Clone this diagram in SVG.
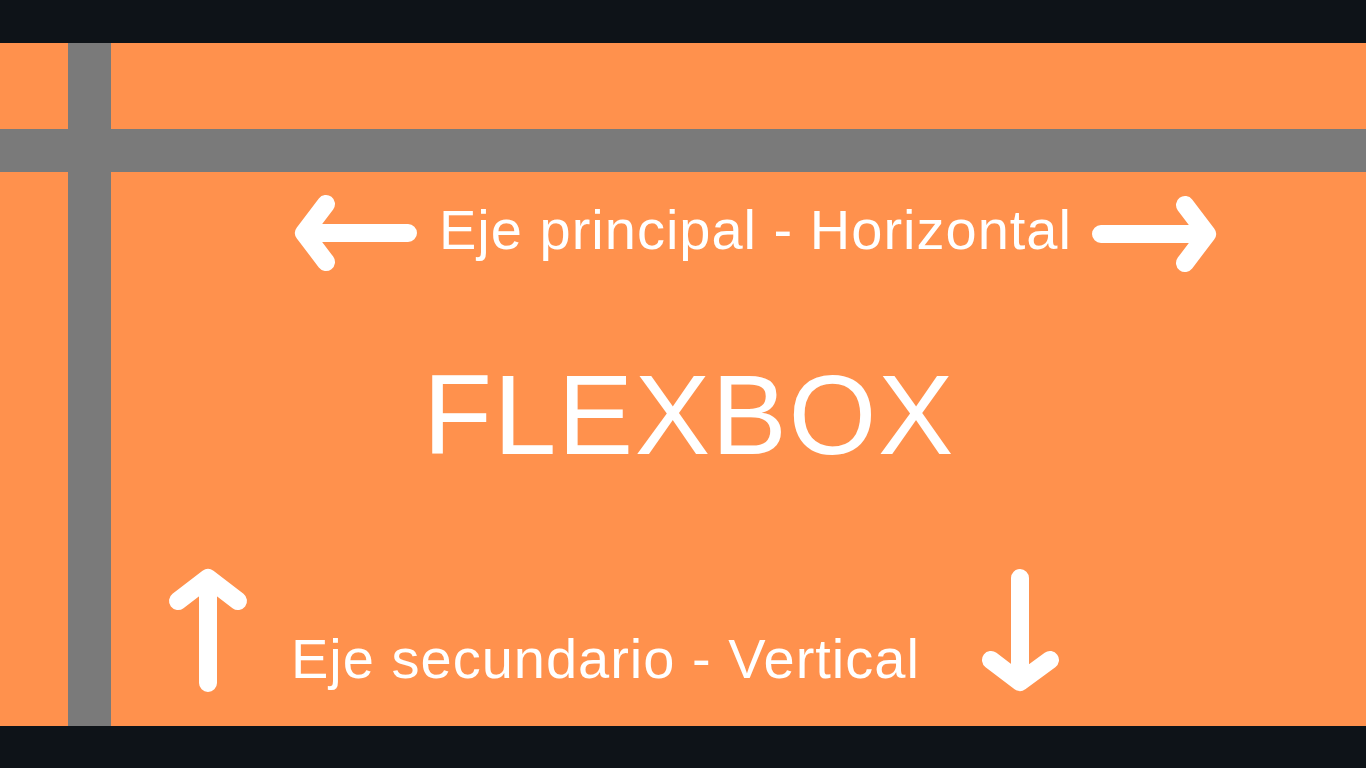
<svg xmlns="http://www.w3.org/2000/svg" width="1366" height="768" viewBox="0 0 1366 768">
<style>
.bg{fill:#ff914d}
.band{fill:#0e1318}
.bar{fill:#7a7a7a}
.lbl{font-family:"Liberation Sans",Arial,sans-serif;fill:#ffffff}
.sub{font-size:56px;letter-spacing:1px}
.arr{fill:none;stroke:#ffffff;stroke-width:18;stroke-linecap:round;stroke-linejoin:round}
</style>
<rect x="0" y="0" width="1366" height="768" class="band"/>
<rect x="0" y="43" width="1366" height="683" class="bg"/>
<rect x="68" y="43" width="43" height="683" class="bar"/>
<rect x="0" y="129" width="1366" height="43" class="bar"/>
<g id="title">
<text x="423" y="454" class="lbl" font-size="113" letter-spacing="1.5">FLEXBOX</text>
</g>
<g id="main-axis">
<text x="439" y="249" class="lbl sub">Eje principal - Horizontal</text>
</g>
<g id="cross-axis">
<text x="291" y="678" class="lbl sub">Eje secundario - Vertical</text>
</g>
<g id="connectors">
<path class="arr" d="M408 233H304M326 204L304 233L326 262"/>
<path class="arr" d="M1101 234H1207M1185 205L1207 234L1185 263"/>
<path class="arr" d="M208 683V578M178 601L208 578L238 601"/>
<path class="arr" d="M1020 578V682M991 660L1020 682L1050 660"/>
</g>
</svg>
